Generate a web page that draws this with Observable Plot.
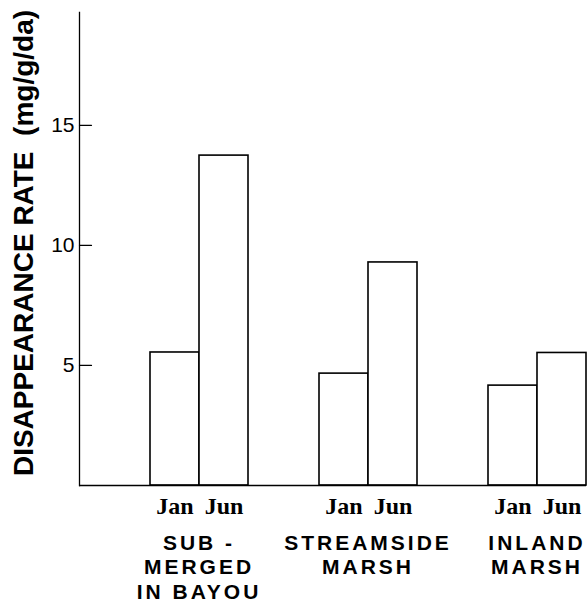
<!DOCTYPE html>
<html><head><meta charset="utf-8">
<script src="https://cdn.jsdelivr.net/npm/d3@7"></script>
<script src="https://cdn.jsdelivr.net/npm/@observablehq/plot@0.6"></script>
<style>
html,body{margin:0;padding:0;background:#fff;}
#chart{width:588px;height:602px;overflow:hidden;}
g[aria-label="fx-axis tick label"] text { letter-spacing: 3px; }
</style></head><body><div id="chart"></div>
<script>
const groups = ["SUB -\nMERGED\nIN BAYOU", "STREAMSIDE\nMARSH", "INLAND\nMARSH"];
const seasons = ["Jan", "Jun"];
const janValues = [5.54, 4.66, 4.16];
const junValues = [13.74, 9.29, 5.52];
const yTicks = [5, 10, 15];
const yTitle = "DISAPPEARANCE RATE  (mg/g/da)";

const rows = groups.flatMap((g, i) => [
  {group: g, season: seasons[0], value: janValues[i]},
  {group: g, season: seasons[1], value: junValues[i]}
]);
const tickRows = yTicks.map(v => ({group: groups[0], value: v}));

const tickShape = {draw(context, l) { context.moveTo(0, 0); context.lineTo(0, -l); }};

const chart = Plot.plot({
  width: 588,
  height: 602,
  marginLeft: 78,
  marginRight: 1,
  marginTop: 12,
  marginBottom: 117,
  style: {background: "#fff", color: "#000", fontFamily: "Liberation Sans, Arial, sans-serif"},
  fx: {domain: groups, padding: 0, label: null},
  x: {domain: seasons, paddingInner: 0, paddingOuter: 0.7, align: 1, label: null},
  y: {domain: [0, 19.7], label: null},
  marks: [
    Plot.barY(rows, {fx: "group", x: "season", y: "value", fill: "#fff", stroke: "#000", strokeWidth: 1.6}),
    Plot.ruleY([0], {stroke: "#000", strokeWidth: 1.6}),
    Plot.frame({anchor: "left", facet: "super", stroke: "#000", strokeWidth: 1.3}),
    Plot.vector(tickRows, {fx: "group", y: "value", frameAnchor: "left", length: 12, rotate: 90, anchor: "start", shape: tickShape, stroke: "#000", strokeWidth: 1.2}),
    Plot.axisY(yTicks, {anchor: "left", tickSize: 0, tickPadding: 5, fontSize: 21, fontFamily: "Liberation Sans, Arial, sans-serif", label: null}),
    Plot.text([yTitle], {frameAnchor: "left", textAnchor: "middle", rotate: -90, dx: -66, dy: -6, lineAnchor: "top", facet: "super", fontSize: 28, fontWeight: "bold", fontFamily: "Liberation Sans, Arial, sans-serif", fill: "#000"}),
    Plot.axisX({anchor: "bottom", tickSize: 0, tickPadding: 11, fontSize: 24, fontWeight: "bold", fontFamily: "Liberation Serif, Times New Roman, serif", label: null}),
    Plot.axisFx({anchor: "bottom", tickSize: 0, tickPadding: 47, dx: 35, fontSize: 21, fontWeight: "bold", lineHeight: 1.16, fontFamily: "Liberation Sans, Arial, sans-serif", label: null})
  ]
});
document.getElementById("chart").appendChild(chart);
</script>
</body></html>
